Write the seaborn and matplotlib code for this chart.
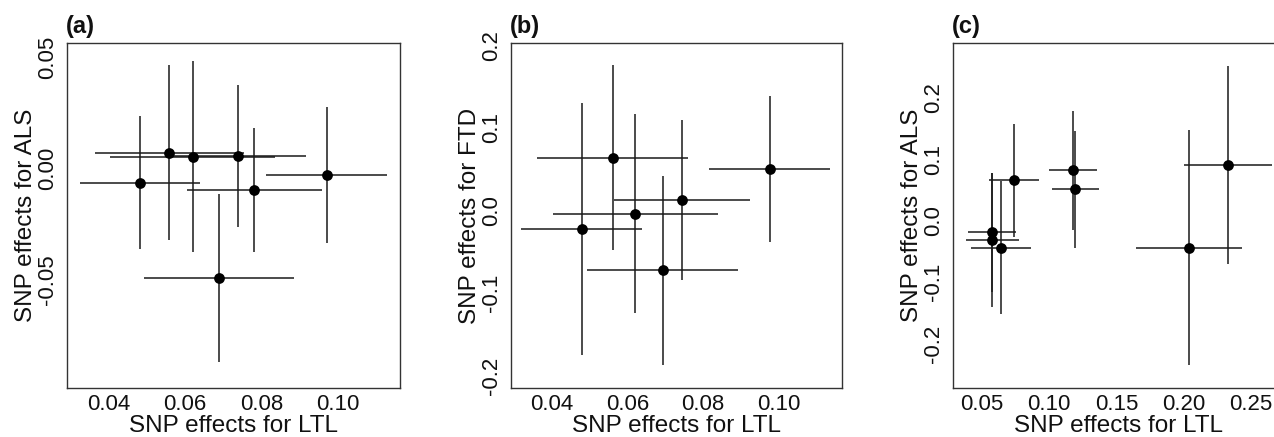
import matplotlib
matplotlib.use("Agg")
import matplotlib.pyplot as plt
import pandas as pd
import seaborn as sns

# panel (a): LTL vs ALS
a_ltl = [0.0482, 0.0559, 0.0620, 0.0738, 0.0781, 0.0970, 0.0689]
a_ltl_err = [0.0158, 0.0196, 0.0216, 0.0178, 0.0177, 0.0158, 0.0196]
a_als = [-0.0065, 0.0070, 0.0051, 0.0054, -0.0099, -0.0030, -0.0493]
a_als_err = [0.0300, 0.0394, 0.0430, 0.0320, 0.0280, 0.0306, 0.0379]

# panel (b): LTL vs FTD
b_ltl = [0.0479, 0.0561, 0.0621, 0.0744, 0.0694, 0.0977]
b_ltl_err = [0.0160, 0.0200, 0.0219, 0.0180, 0.0200, 0.0160]
b_ftd = [-0.0221, 0.0640, -0.0040, 0.0125, -0.0721, 0.0503]
b_ftd_err = [0.1527, 0.1120, 0.1204, 0.0970, 0.1144, 0.0887]

# panel (c): LTL vs ALS
c_ltl = [0.0578, 0.0579, 0.0643, 0.0742, 0.1177, 0.1196, 0.2038, 0.2327]
c_ltl_err = [0.0179, 0.0198, 0.0222, 0.0185, 0.0179, 0.0177, 0.0392, 0.0328]
c_als = [-0.0190, -0.0314, -0.0439, 0.0656, 0.0818, 0.0509, -0.0439, 0.0900]
c_als_err = [0.0970, 0.1090, 0.1080, 0.0920, 0.0976, 0.0951, 0.1920, 0.1613]

a_xticks = [0.04, 0.06, 0.08, 0.10]
a_xlabels = ["0.04", "0.06", "0.08", "0.10"]
a_yticks = [-0.05, 0.0, 0.05]
a_ylabels = ["-0.05", "0.00", "0.05"]
b_yticks = [-0.2, -0.1, 0.0, 0.1, 0.2]
b_ylabels = ["-0.2", "-0.1", "0.0", "0.1", "0.2"]
c_xticks = [0.05, 0.10, 0.15, 0.20, 0.25]
c_xlabels = ["0.05", "0.10", "0.15", "0.20", "0.25"]

sns.set_style("white")
plt.rcParams["font.family"] = ["Liberation Sans", "DejaVu Sans"]

fig = plt.figure(figsize=(12.74, 4.37), dpi=100)

panels = [
    ("(a)", a_ltl, a_ltl_err, a_als, a_als_err, "SNP effects for ALS",
     [0.0526, 0.1121, 0.2614, 0.7895], (0.0291, 0.1162), (-0.099, 0.0564),
     a_xticks, a_xlabels, a_yticks, a_ylabels),
    ("(b)", b_ltl, b_ltl_err, b_ftd, b_ftd_err, "SNP effects for FTD",
     [0.4009, 0.1121, 0.2598, 0.7895], (0.0291, 0.1168), (-0.2149, 0.2028),
     a_xticks, a_xlabels, b_yticks, b_ylabels),
    ("(c)", c_ltl, c_ltl_err, c_als, c_als_err, "SNP effects for ALS",
     [0.7483, 0.1121, 0.2598, 0.7895], (0.029, 0.2746), (-0.2726, 0.2894),
     c_xticks, c_xlabels, b_yticks, b_ylabels),
]

for tag, x, xerr, y, yerr, ylab, pos, xlim, ylim, xt, xtl, yt, ytl in panels:
    ax = fig.add_axes(pos)
    df = pd.DataFrame({"x": x, "y": y})
    ax.errorbar(x, y, xerr=xerr, yerr=yerr, fmt="none", ecolor="#1a1a1a",
                elinewidth=1.1, capsize=0, zorder=2)
    sns.scatterplot(data=df, x="x", y="y", ax=ax, color="black", s=60,
                    edgecolor="black", linewidth=0, zorder=3)
    ax.set_xlim(*xlim)
    ax.set_ylim(*ylim)
    ax.set_xticks(xt)
    ax.set_xticklabels(xtl)
    ax.set_yticks(yt)
    ax.set_yticklabels(ytl, rotation=90, va="center")
    ax.tick_params(axis="both", direction="out", length=3.5, width=0.9,
                   color="#333333", labelsize=16, labelcolor="#111111")
    ax.tick_params(axis="x", pad=0.5)
    ax.tick_params(axis="y", pad=3)
    for sp in ax.spines.values():
        sp.set_color("#333333")
        sp.set_linewidth(1.0)
    ax.set_xlabel("SNP effects for LTL", fontsize=17.5, color="#111111", va="baseline")
    ax.set_ylabel(ylab, fontsize=17.5, color="#111111", va="center")
    ax.xaxis.set_label_coords(0.5, -0.128)
    ax.yaxis.set_label_coords(-0.124, 0.5)
    ax.text(-0.003, 1.015, tag, transform=ax.transAxes, ha="left", va="bottom",
            fontsize=17, fontweight="bold", color="#111111")

fig.savefig("out.png", dpi=100)
